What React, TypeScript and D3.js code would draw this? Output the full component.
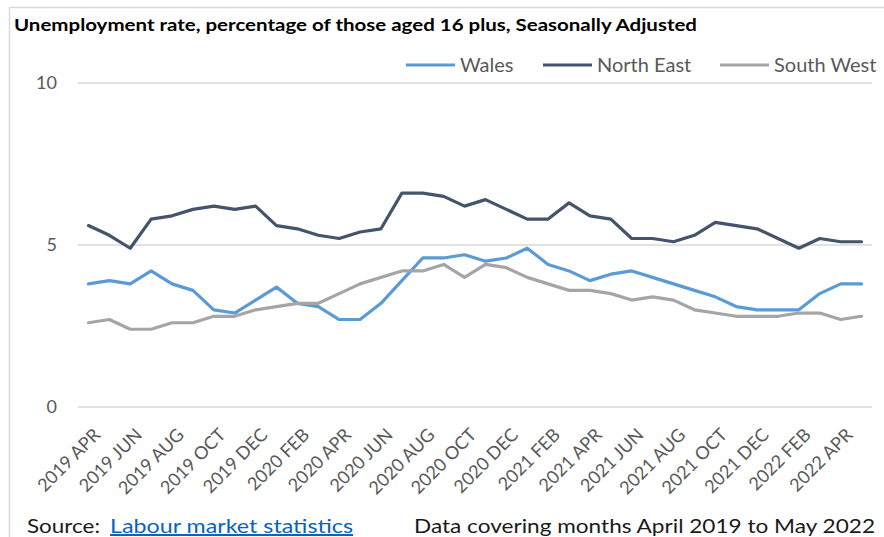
import React from "react";
import * as d3 from "d3";

const months: string[] = [
  "2019 APR", "2019 MAY", "2019 JUN", "2019 JUL", "2019 AUG", "2019 SEP", "2019 OCT", "2019 NOV",
  "2019 DEC", "2020 JAN", "2020 FEB", "2020 MAR", "2020 APR", "2020 MAY", "2020 JUN", "2020 JUL",
  "2020 AUG", "2020 SEP", "2020 OCT", "2020 NOV", "2020 DEC", "2021 JAN", "2021 FEB", "2021 MAR",
  "2021 APR", "2021 MAY", "2021 JUN", "2021 JUL", "2021 AUG", "2021 SEP", "2021 OCT", "2021 NOV",
  "2021 DEC", "2022 JAN", "2022 FEB", "2022 MAR", "2022 APR", "2022 MAY",
];

const wales: number[] = [
  3.8, 3.9, 3.8, 4.2, 3.8, 3.6, 3.0, 2.9, 3.3, 3.7, 3.2, 3.1, 2.7, 2.7, 3.2, 3.9, 4.6, 4.6, 4.7,
  4.5, 4.6, 4.9, 4.4, 4.2, 3.9, 4.1, 4.2, 4.0, 3.8, 3.6, 3.4, 3.1, 3.0, 3.0, 3.0, 3.5, 3.8, 3.8,
];

const northEast: number[] = [
  5.6, 5.3, 4.9, 5.8, 5.9, 6.1, 6.2, 6.1, 6.2, 5.6, 5.5, 5.3, 5.2, 5.4, 5.5, 6.6, 6.6, 6.5, 6.2,
  6.4, 6.1, 5.8, 5.8, 6.3, 5.9, 5.8, 5.2, 5.2, 5.1, 5.3, 5.7, 5.6, 5.5, 5.2, 4.9, 5.2, 5.1, 5.1,
];

const southWest: number[] = [
  2.6, 2.7, 2.4, 2.4, 2.6, 2.6, 2.8, 2.8, 3.0, 3.1, 3.2, 3.2, 3.5, 3.8, 4.0, 4.2, 4.2, 4.4, 4.0,
  4.4, 4.3, 4.0, 3.8, 3.6, 3.6, 3.5, 3.3, 3.4, 3.3, 3.0, 2.9, 2.8, 2.8, 2.8, 2.9, 2.9, 2.7, 2.8,
];

const seriesNames: string[] = ["Wales", "North East", "South West"];
const seriesColors: string[] = ["#5B9BD5", "#44546A", "#A5A5A5"];
const yTicks: number[] = [0, 5, 10];

const titleText = "Unemployment rate, percentage of those aged 16 plus, Seasonally Adjusted";
const sourceLabel = "Source:";
const sourceLink = "Labour market statistics";
const coverageText = "Data covering months April 2019 to May 2022";

const FONT = "Lato, 'Open Sans', sans-serif";

export default function App() {
  const W = 884;
  const H = 537;
  const x = d3.scaleBand<string>().domain(months).range([78, 872]);
  const y = d3.scaleLinear().domain([0, 10]).range([407, 83]);
  const cx = (m: string) => (x(m) as number) + x.bandwidth() / 2;

  const allSeries = [wales, northEast, southWest];
  const line = d3
    .line<number>()
    .x((_, i) => cx(months[i]))
    .y((v) => y(v));

  const legendX = [406, 543, 720];

  return (
    <svg
      width={W}
      height={H}
      style={{ position: "absolute", left: 0, top: 0, background: "#fff" }}
      fontFamily={FONT}
    >
      <rect x={0} y={0} width={W} height={H} fill="#fff" />
      <path d={`M9.5,${H} L9.5,7.5 L${W},7.5`} fill="none" stroke="#D9D9D9" strokeWidth={1.5} />

      <text
        x={14}
        y={31}
        fontSize={17}
        fontWeight="bold"
        fill="#000"
        textLength={683}
        lengthAdjust="spacingAndGlyphs"
      >
        {titleText}
      </text>

      {yTicks.map((t) => (
        <g key={t}>
          <line x1={78} x2={872} y1={y(t)} y2={y(t)} stroke="#D9D9D9" strokeWidth={1.5} />
          <text x={57} y={y(t)} dy="0.36em" textAnchor="end" fontSize={18} fill="#595959">
            {t}
          </text>
        </g>
      ))}

      {allSeries.map((s, k) => (
        <path
          key={k}
          d={line(s) as string}
          fill="none"
          stroke={seriesColors[k]}
          strokeWidth={3.2}
          strokeLinejoin="round"
          strokeLinecap="round"
        />
      ))}

      {months.map((m, i) =>
        i % 2 === 0 ? (
          <text
            key={m}
            transform={`translate(${cx(m) + 4},${427}) rotate(-45)`}
            textAnchor="end"
            dy="0.71em"
            fontSize={18}
            fill="#595959"
          >
            {m}
          </text>
        ) : null
      )}

      {seriesNames.map((n, k) => (
        <g key={n}>
          <line
            x1={legendX[k]}
            x2={legendX[k] + 49}
            y1={65}
            y2={65}
            stroke={seriesColors[k]}
            strokeWidth={3.2}
          />
          <text x={legendX[k] + 54} y={65} dy="0.36em" fontSize={20} fill="#595959">
            {n}
          </text>
        </g>
      ))}

      <text x={27} y={533} fontSize={20} fill="#1a1a1a" textLength={73} lengthAdjust="spacingAndGlyphs">
        {sourceLabel}
      </text>
      <text
        x={110}
        y={533}
        fontSize={20}
        fill="#0563C1"
        textDecoration="underline"
        textLength={243}
        lengthAdjust="spacingAndGlyphs"
      >
        {sourceLink}
      </text>
      <text x={414} y={533} fontSize={20} fill="#1a1a1a" textLength={461} lengthAdjust="spacingAndGlyphs">
        {coverageText}
      </text>
    </svg>
  );
}
